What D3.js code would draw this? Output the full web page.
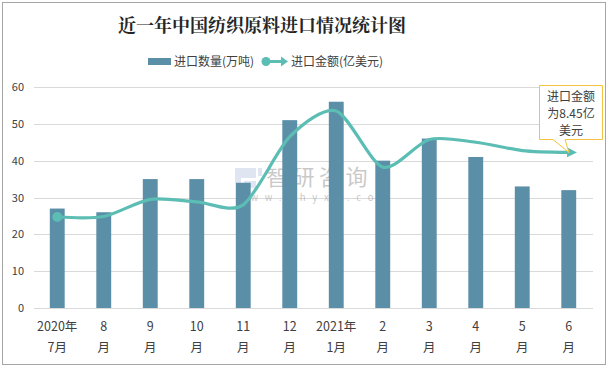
<!DOCTYPE html>
<html><head><meta charset="utf-8">
<script src="https://cdn.jsdelivr.net/npm/d3@7"></script>
<style>body{margin:0;background:#fff;}svg{display:block;}</style>
</head><body>
<svg id="c" width="609" height="369"></svg>
<script>
const categories = [["2020年","7月"],["8","月"],["9","月"],["10","月"],["11","月"],["12","月"],["2021年","1月"],["2","月"],["3","月"],["4","月"],["5","月"],["6","月"]];
const quantity = [27, 26, 35, 35, 34, 51, 56, 40, 46, 41, 33, 32];
const amount = [4.94, 4.97, 5.9, 5.76, 5.6, 9.3, 10.7, 7.65, 9.15, 9.0, 8.55, 8.45];
const yTicks = [0, 10, 20, 30, 40, 50, 60];
const title = "近一年中国纺织原料进口情况统计图";
const legendLabels = ["进口数量(万吨)", "进口金额(亿美元)"];
const note = ["进口金额", "为8.45亿", "美元"];

const font = "'Noto Sans CJK SC','Microsoft YaHei',sans-serif";
const svg = d3.select("#c");
svg.append("rect").attr("x",2.5).attr("y",2.5).attr("width",603).attr("height",362)
  .attr("fill","#fff").attr("stroke","#a6a6a6").attr("stroke-width",1);

const x = d3.scaleBand().domain(d3.range(categories.length)).range([34, 592]).paddingInner(0.68).paddingOuter(0.34);
const y = d3.scaleLinear().domain([0, 60]).range([308, 87]);
const y2 = d3.scaleLinear().domain([0, 12]).range([308, 87]);

// grid
svg.append("g").selectAll("line").data(yTicks).join("line")
  .attr("x1",34).attr("x2",593).attr("y1",d=>Math.round(y(d))+0.5).attr("y2",d=>Math.round(y(d))+0.5)
  .attr("stroke","#d9d9d9").attr("stroke-width",1);
svg.append("g").selectAll("text").data(yTicks).join("text")
  .attr("x",24).attr("y",d=>y(d)+4).attr("text-anchor","end")
  .attr("font-family",font).attr("font-size",11).attr("fill","#404040").text(d=>d);

// watermark
const wm = svg.append("g").attr("opacity",0.45);
wm.append("path").attr("d","M235,168 H256 V178 H241 V183 H235 Z M244,181 H256 V188 H244 Z M258,168 H262 V176 H258 Z")
  .attr("fill","#b9c8e4");
wm.append("text").attr("x",266).attr("y",185).attr("font-family",font).attr("font-size",22).attr("fill","#8a8a8a").attr("letter-spacing",4.5).text("智研咨询");
wm.append("text").attr("x",236).attr("y",201).attr("font-family",font).attr("font-size",9.5).attr("fill","#8a8a8a").attr("letter-spacing",6.8).text("www.chyxx.com");

// bars
svg.append("g").selectAll("rect").data(quantity).join("rect")
  .attr("x",(d,i)=>x(i)).attr("width",x.bandwidth())
  .attr("y",d=>y(d)).attr("height",d=>y(0)-y(d)).attr("fill","#5b8ea7");

// line
const defs = svg.append("defs");
defs.append("marker").attr("id","arr").attr("viewBox","0 0 10 10").attr("refX",2).attr("refY",5)
  .attr("markerWidth",3.2).attr("markerHeight",3.2).attr("orient","auto")
  .append("path").attr("d","M0,0 L10,5 L0,10 z").attr("fill","#5bbdb3");
const line = d3.line().x((d,i)=>x(i)+x.bandwidth()/2).y(d=>y2(d)).curve(d3.curveCardinal.tension(0.2));
svg.append("path").datum(amount).attr("d",line).attr("fill","none").attr("stroke","#5bbdb3")
  .attr("stroke-width",3.2).attr("marker-end","url(#arr)");
svg.append("circle").attr("cx",x(0)+x.bandwidth()/2).attr("cy",y2(amount[0])).attr("r",5).attr("fill","#5bbdb3");

// x labels
const xl = svg.append("g").selectAll("text").data(categories).join("text")
  .attr("text-anchor","middle").attr("font-family",font).attr("font-size",12.5).attr("fill","#404040");
xl.append("tspan").attr("x",(d,i)=>x(i)+x.bandwidth()/2).attr("y",331).text(d=>d[0]);
xl.append("tspan").attr("x",(d,i)=>x(i)+x.bandwidth()/2).attr("y",352).text(d=>d[1]);

// title
svg.append("text").attr("x",262).attr("y",32).attr("text-anchor","middle")
  .attr("font-family","'Noto Serif CJK SC','Noto Sans CJK SC',serif").attr("font-weight","bold").attr("font-size",18).attr("fill","#262626").text(title);

// legend
svg.append("rect").attr("x",148).attr("y",58).attr("width",23).attr("height",7).attr("fill","#5b8ea7");
svg.append("text").attr("x",174).attr("y",66).attr("font-family",font).attr("font-size",12).attr("fill","#404040").text(legendLabels[0]);
svg.append("line").attr("x1",266).attr("x2",283).attr("y1",61.5).attr("y2",61.5).attr("stroke","#5bbdb3").attr("stroke-width",3);
svg.append("path").attr("d","M281,56.5 L288,61.5 L281,66.5 z").attr("fill","#5bbdb3");
svg.append("circle").attr("cx",266).attr("cy",61.5).attr("r",4.5).attr("fill","#5bbdb3");
svg.append("text").attr("x",291).attr("y",66).attr("font-family",font).attr("font-size",12).attr("fill","#404040").text(legendLabels[1]);

// callout
svg.append("path").attr("d","M539.5,85.5 H602.5 V139.5 H565 L569,152.5 L553,139.5 H539.5 Z")
  .attr("fill","#fff").attr("stroke","#f5c342").attr("stroke-width",1);
svg.append("g").selectAll("text").data(note).join("text")
  .attr("x",571).attr("y",(d,i)=>101+i*17).attr("text-anchor","middle")
  .attr("font-family",font).attr("font-size",12).attr("fill","#404040").text(d=>d);
</script>
</body></html>
